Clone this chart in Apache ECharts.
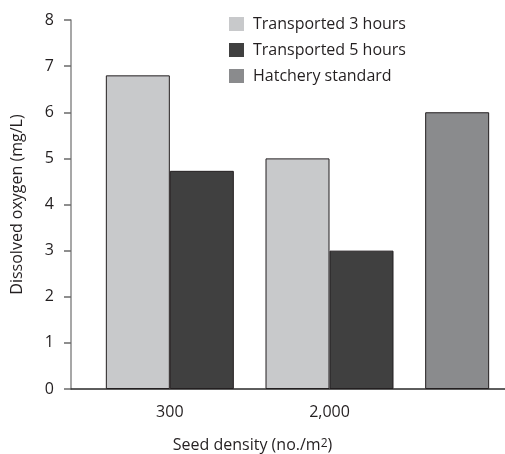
<!DOCTYPE html>
<html><head><meta charset="utf-8">
<script src="https://cdn.jsdelivr.net/npm/echarts@6/dist/echarts.min.js"></script>
<style>html,body{margin:0;padding:0;background:#fff}#c{width:505px;height:454px}</style>
</head><body><div id="c"></div>
<script>
const categories = ['300', '2,000', ''];
const transported3 = [6.8, 5.0, null];
const transported5 = [4.73, 3.0, null];
const hatchery = [null, null, 6.0];
const yTicks = { min: 0, max: 8, interval: 1 };

const FONT = '"Open Sans", "Noto Sans", sans-serif';
const txt = '#231f20';
const chart = echarts.init(document.getElementById('c'), null, { renderer: 'canvas' });
chart.setOption({
  animation: false,
  textStyle: { fontFamily: FONT },
  title: {
    text: 'Seed density (no./m{s|2})',
    left: 'center', top: 432,
    textStyle: { fontFamily: FONT, fontSize: 16, fontWeight: 'normal', color: txt,
      rich: { s: { fontFamily: FONT, fontSize: 12, color: txt, padding: [0, 0, 2, 0] } } }
  },
  legend: {
    orient: 'vertical', left: 224, top: 11,
    itemWidth: 15, itemHeight: 14, itemGap: 10,
    icon: 'rect',
    textStyle: { fontFamily: FONT, fontSize: 16, color: txt, padding: [0, 0, 0, 4] },
    itemStyle: { borderWidth: 0 },
    data: ['Transported 3 hours', 'Transported 5 hours', 'Hatchery standard']
  },
  grid: [
    { left: 90, width: 479, top: 20, bottom: 65, outerBoundsMode: 'none', containLabel: false },
    { left: 71, right: 0, top: 20, bottom: 65 }
  ],
  xAxis: [
    { type: 'category', gridIndex: 0, data: categories,
      axisLine: { show: false }, axisTick: { show: false },
      axisLabel: { margin: 15, fontFamily: FONT, fontSize: 16, color: txt } },
    { type: 'value', gridIndex: 1, min: 0, max: 1,
      axisLine: { show: true, onZero: false, lineStyle: { color: '#2a2a2a', width: 1.5 } },
      axisTick: { show: false }, axisLabel: { show: false }, splitLine: { show: false } }
  ],
  yAxis: [
    { type: 'value', gridIndex: 0, min: yTicks.min, max: yTicks.max, interval: yTicks.interval, show: false },
    { type: 'value', gridIndex: 1, min: yTicks.min, max: yTicks.max, interval: yTicks.interval,
      name: 'Dissolved oxygen (mg/L)', nameLocation: 'middle', nameGap: 46,
      nameTextStyle: { fontFamily: FONT, fontSize: 16, color: txt },
      axisLine: { show: true, lineStyle: { color: '#8a8a8a', width: 1.5 } },
      axisTick: { show: true, length: 7, lineStyle: { color: '#6a6a6a', width: 1.5 } },
      axisLabel: { margin: 17, fontFamily: FONT, fontSize: 16, color: txt },
      splitLine: { show: false } }
  ],
  series: [
    { name: 'Transported 3 hours', type: 'bar', xAxisIndex: 0, yAxisIndex: 0, stack: 'a',
      barWidth: 64, barGap: '0%', data: transported3,
      itemStyle: { color: '#c8c9cb', borderColor: '#231f20', borderWidth: 1 } },
    { name: 'Transported 5 hours', type: 'bar', xAxisIndex: 0, yAxisIndex: 0,
      barWidth: 64, barGap: '0%', data: transported5,
      itemStyle: { color: '#404040', borderColor: '#231f20', borderWidth: 1 } },
    { name: 'Hatchery standard', type: 'bar', xAxisIndex: 0, yAxisIndex: 0, stack: 'a',
      barWidth: 64, barGap: '0%', data: hatchery,
      itemStyle: { color: '#8a8b8d', borderColor: '#231f20', borderWidth: 1 } }
  ]
});
</script></body></html>
